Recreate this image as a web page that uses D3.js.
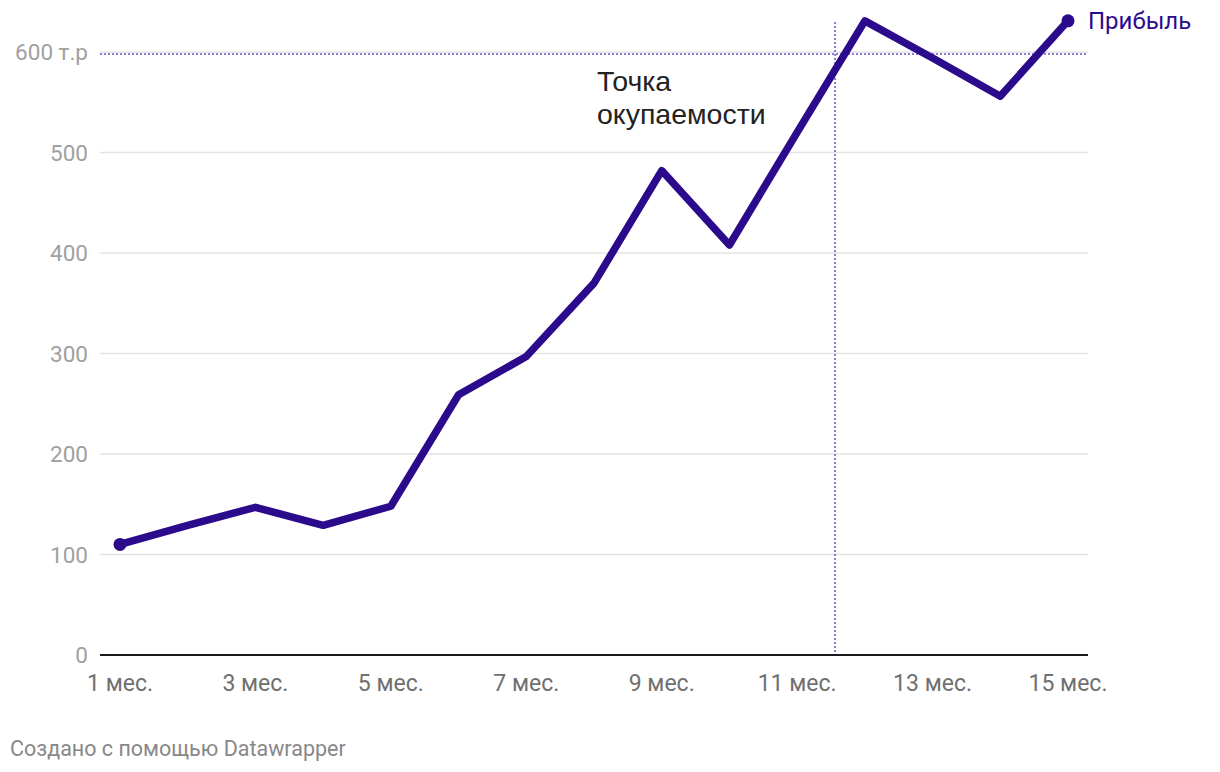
<!DOCTYPE html>
<html>
<head>
<meta charset="utf-8">
<script src="https://cdn.jsdelivr.net/npm/d3@7"></script>
<style>
  body { margin: 0; background: #fff; font-family: Roboto, "Noto Sans", sans-serif; }
  .note { font-family: "Liberation Sans", Arial, sans-serif; font-size: 28.5px; }
</style>
</head>
<body>
<div id="chart"></div>
<script>
// данные
const months = [1, 2, 3, 4, 5, 6, 7, 8, 9, 10, 11, 12, 13, 14, 15];
const profit = [110, 129, 147, 129, 148, 259, 297, 370, 482, 408, 520, 631, 594, 556, 631];
const yTicks = [0, 100, 200, 300, 400, 500, 600];
const xTicks = [1, 3, 5, 7, 9, 11, 13, 15];
const breakEvenMonth = 11.56;
const breakEvenValue = 598;

const width = 1220, height = 772;
const plotLeft = 100, plotRight = 1088, plotTop = 52, plotBottom = 655;

const svg = d3.select("#chart").append("svg")
    .attr("width", width)
    .attr("height", height);

const x = d3.scaleLinear().domain([1, 15]).range([120, 1068]);
const y = d3.scaleLinear().domain([0, 600]).range([plotBottom, plotTop]);

// сетка
svg.append("g").selectAll("line")
    .data(yTicks.filter(d => d > 0))
    .enter().append("line")
    .attr("x1", plotLeft).attr("x2", plotRight)
    .attr("y1", d => y(d)).attr("y2", d => y(d))
    .attr("stroke", "#e3e3e3")
    .attr("stroke-width", 1.5);

// подписи оси Y
svg.append("g").selectAll("text")
    .data(yTicks)
    .enter().append("text")
    .attr("x", 88)
    .attr("y", d => y(d))
    .attr("dy", "0.36em")
    .attr("text-anchor", "end")
    .attr("fill", "#a0a0a0")
    .style("font-size", "22.5px")
    .text(d => d === 600 ? "600 т.р" : d);

// точка окупаемости
svg.append("line")
    .attr("x1", plotLeft).attr("x2", plotRight)
    .attr("y1", y(breakEvenValue)).attr("y2", y(breakEvenValue))
    .attr("stroke", "#6a52d0")
    .attr("stroke-width", 1.5)
    .attr("stroke-dasharray", "2,2");

svg.append("line")
    .attr("x1", x(breakEvenMonth)).attr("x2", x(breakEvenMonth))
    .attr("y1", 22).attr("y2", plotBottom)
    .attr("stroke", "#6a52d0")
    .attr("stroke-width", 1.5)
    .attr("stroke-dasharray", "2,2");

const note = svg.append("text")
    .attr("class", "note")
    .attr("x", 597)
    .attr("y", 91)
    .attr("fill", "#222");
note.append("tspan").attr("x", 597).text("Точка");
note.append("tspan").attr("x", 597).attr("dy", 33).text("окупаемости");

// ось X
svg.append("line")
    .attr("x1", plotLeft).attr("x2", plotRight)
    .attr("y1", plotBottom).attr("y2", plotBottom)
    .attr("stroke", "#1a1a1a")
    .attr("stroke-width", 2);

svg.append("g").selectAll("text")
    .data(xTicks)
    .enter().append("text")
    .attr("x", d => x(d))
    .attr("y", 691)
    .attr("text-anchor", "middle")
    .attr("fill", "#707070")
    .style("font-size", "23px")
    .text(d => d + " мес.");

// линия прибыли
const line = d3.line()
    .x((d, i) => x(months[i]))
    .y(d => y(d));

svg.append("path")
    .datum(profit)
    .attr("d", line)
    .attr("fill", "none")
    .attr("stroke", "#2c0a8c")
    .attr("stroke-width", 7.5)
    .attr("stroke-linejoin", "round");

svg.append("g").selectAll("circle")
    .data([0, profit.length - 1])
    .enter().append("circle")
    .attr("cx", i => x(months[i]))
    .attr("cy", i => y(profit[i]))
    .attr("r", 6.5)
    .attr("fill", "#2c0a8c");

svg.append("text")
    .attr("x", 1088)
    .attr("y", y(profit[profit.length - 1]))
    .attr("dy", "0.36em")
    .attr("fill", "#2c0a8c")
    .style("font-size", "24px")
    .text("Прибыль");

// подпись
svg.append("text")
    .attr("x", 10)
    .attr("y", 756)
    .attr("fill", "#888")
    .style("font-size", "21.5px")
    .text("Создано с помощью Datawrapper");
</script>
</body>
</html>
